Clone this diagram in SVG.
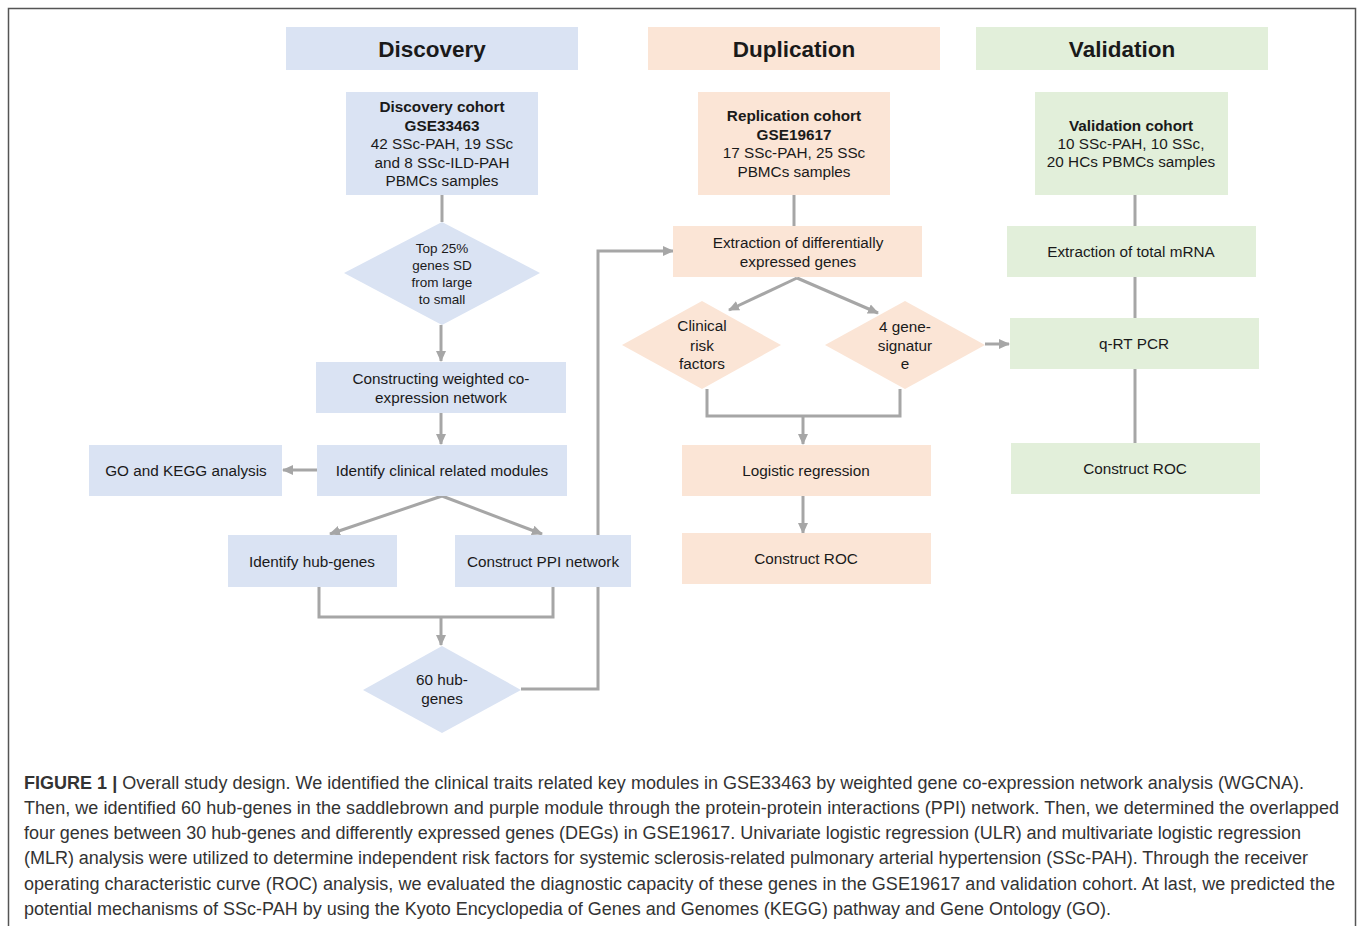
<svg xmlns="http://www.w3.org/2000/svg" width="1357" height="926" viewBox="0 0 1357 926">
<style>
.b{fill:#dae3f3}.p{fill:#fbe5d6}.g{fill:#e2efda}
.t{font-family:"Liberation Sans",Arial,sans-serif;font-size:15.3px;fill:#1a1a1a;text-anchor:middle}
.tb{font-weight:bold}
.h{font-family:"Liberation Sans",Arial,sans-serif;font-size:22.5px;font-weight:bold;fill:#1a1a1a;text-anchor:middle}
.d{font-size:13.5px}
.c{fill:none;stroke:#a6a6a6;stroke-width:3}
.cap{font-family:"Liberation Sans",Arial,sans-serif;font-size:18px;fill:#333}
</style>
<defs>
<marker id="a" markerUnits="userSpaceOnUse" markerWidth="12" markerHeight="12" viewBox="0 0 12 12" refX="10" refY="6" orient="auto">
<path d="M0,1 L11,6 L0,11 z" fill="#a6a6a6"/>
</marker>
</defs>
<rect x="8.5" y="8.5" width="1347" height="930" fill="#fff" stroke="#555" stroke-width="1.5"/>

<g id="hdr-discovery"><rect class="b" x="286" y="27" width="292" height="43"/><text class="h" x="432" y="57">Discovery</text></g>
<g id="hdr-duplication"><rect class="p" x="648" y="27" width="292" height="43"/><text class="h" x="794" y="57">Duplication</text></g>
<g id="hdr-validation"><rect class="g" x="976" y="27" width="292" height="43"/><text class="h" x="1122" y="57">Validation</text></g>

<g id="connectors">
<line class="c" x1="442" y1="195" x2="442" y2="222"/>
<line class="c" x1="441" y1="325" x2="441" y2="361" marker-end="url(#a)"/>
<line class="c" x1="441" y1="413" x2="441" y2="444" marker-end="url(#a)"/>
<line class="c" x1="317" y1="470" x2="283" y2="470" marker-end="url(#a)"/>
<polyline class="c" points="442,496 330,534" marker-end="url(#a)"/>
<polyline class="c" points="442,496 542,534" marker-end="url(#a)"/>
<polyline class="c" points="319,587 319,617 553,617 553,587"/>
<line class="c" x1="441" y1="617" x2="441" y2="645" marker-end="url(#a)"/>
<polyline class="c" points="521,689 598,689 598,251 673,251" marker-end="url(#a)"/>
<line class="c" x1="794" y1="195" x2="794" y2="226"/>
<polyline class="c" points="797,278 729,310" marker-end="url(#a)"/>
<polyline class="c" points="797,278 878,313" marker-end="url(#a)"/>
<polyline class="c" points="707,389 707,416 900,416 900,389"/>
<line class="c" x1="803" y1="416" x2="803" y2="444" marker-end="url(#a)"/>
<line class="c" x1="803" y1="496" x2="803" y2="533" marker-end="url(#a)"/>
<line class="c" x1="985" y1="344" x2="1009" y2="344" marker-end="url(#a)"/>
<line class="c" x1="1135" y1="195" x2="1135" y2="226"/>
<line class="c" x1="1135" y1="277" x2="1135" y2="318"/>
<line class="c" x1="1135" y1="369" x2="1135" y2="443"/>
</g>

<g id="discovery-cohort"><rect class="b" x="346" y="92" width="192" height="103"/>
<text class="t tb" x="442" y="112">Discovery cohort</text>
<text class="t tb" x="442" y="131">GSE33463</text>
<text class="t" x="442" y="149">42 SSc-PAH, 19 SSc</text>
<text class="t" x="442" y="168">and 8 SSc-ILD-PAH</text>
<text class="t" x="442" y="186">PBMCs samples</text></g>

<g id="top25"><polygon class="b" points="442,222 540,273 442,325 344,273"/>
<text class="t d" x="442" y="253">Top 25%</text>
<text class="t d" x="442" y="270">genes SD</text>
<text class="t d" x="442" y="287">from large</text>
<text class="t d" x="442" y="304">to small</text></g>

<g id="construct-wgcn"><rect class="b" x="316" y="362" width="250" height="51"/>
<text class="t" x="441" y="384">Constructing weighted co-</text>
<text class="t" x="441" y="403">expression network</text></g>

<g id="clinical-modules"><rect class="b" x="317" y="445" width="250" height="51"/>
<text class="t" x="442" y="476">Identify clinical related modules</text></g>

<g id="go-kegg"><rect class="b" x="89" y="445" width="193" height="51"/>
<text class="t" x="186" y="476">GO and KEGG analysis</text></g>

<g id="hub-genes"><rect class="b" x="228" y="535" width="169" height="52"/>
<text class="t" x="312" y="567">Identify hub-genes</text></g>

<g id="ppi"><rect class="b" x="455" y="535" width="176" height="52"/>
<text class="t" x="543" y="567">Construct PPI network</text></g>

<g id="hub60"><polygon class="b" points="442,646 521,690 442,733 363,690"/>
<text class="t" x="442" y="685">60 hub-</text>
<text class="t" x="442" y="704">genes</text></g>

<g id="replication-cohort"><rect class="p" x="698" y="92" width="192" height="103"/>
<text class="t tb" x="794" y="121">Replication cohort</text>
<text class="t tb" x="794" y="140">GSE19617</text>
<text class="t" x="794" y="158">17 SSc-PAH, 25 SSc</text>
<text class="t" x="794" y="177">PBMCs samples</text></g>

<g id="extract-deg"><rect class="p" x="673" y="226" width="249" height="51"/>
<text class="t" x="798" y="248">Extraction of differentially</text>
<text class="t" x="798" y="267">expressed genes</text></g>

<g id="clinical-risk"><polygon class="p" points="702,301 781,345 702,389 622,345"/>
<text class="t" x="702" y="331">Clinical</text>
<text class="t" x="702" y="351">risk</text>
<text class="t" x="702" y="369">factors</text></g>

<g id="gene-signature"><polygon class="p" points="905,301 985,345 905,389 825,345"/>
<text class="t" x="905" y="332">4 gene-</text>
<text class="t" x="905" y="351">signatur</text>
<text class="t" x="905" y="369">e</text></g>

<g id="logistic"><rect class="p" x="682" y="445" width="249" height="51"/>
<text class="t" x="806" y="476">Logistic regression</text></g>

<g id="roc-dup"><rect class="p" x="682" y="533" width="249" height="51"/>
<text class="t" x="806" y="564">Construct ROC</text></g>

<g id="validation-cohort"><rect class="g" x="1035" y="92" width="193" height="103"/>
<text class="t tb" x="1131" y="131">Validation cohort</text>
<text class="t" x="1131" y="149">10 SSc-PAH, 10 SSc,</text>
<text class="t" x="1131" y="167">20 HCs PBMCs samples</text></g>

<g id="extract-mrna"><rect class="g" x="1007" y="226" width="249" height="51"/>
<text class="t" x="1131" y="257">Extraction of total mRNA</text></g>

<g id="qrtpcr"><rect class="g" x="1010" y="318" width="249" height="51"/>
<text class="t" x="1134" y="349">q-RT PCR</text></g>

<g id="roc-val"><rect class="g" x="1011" y="443" width="249" height="51"/>
<text class="t" x="1135" y="474">Construct ROC</text></g>

<g id="caption">
<text class="cap" x="24" y="789" textLength="1280" lengthAdjust="spacing"><tspan font-weight="bold">FIGURE 1 |</tspan> Overall study design. We identified the clinical traits related key modules in GSE33463 by weighted gene co-expression network analysis (WGCNA).</text>
<text class="cap" x="24" y="814" textLength="1315" lengthAdjust="spacing">Then, we identified 60 hub-genes in the saddlebrown and purple module through the protein-protein interactions (PPI) network. Then, we determined the overlapped</text>
<text class="cap" x="24" y="839" textLength="1277" lengthAdjust="spacing">four genes between 30 hub-genes and differently expressed genes (DEGs) in GSE19617. Univariate logistic regression (ULR) and multivariate logistic regression</text>
<text class="cap" x="24" y="864" textLength="1284" lengthAdjust="spacing">(MLR) analysis were utilized to determine independent risk factors for systemic sclerosis-related pulmonary arterial hypertension (SSc-PAH). Through the receiver</text>
<text class="cap" x="24" y="890" textLength="1311" lengthAdjust="spacing">operating characteristic curve (ROC) analysis, we evaluated the diagnostic capacity of these genes in the GSE19617 and validation cohort. At last, we predicted the</text>
<text class="cap" x="24" y="915" textLength="1087" lengthAdjust="spacing">potential mechanisms of SSc-PAH by using the Kyoto Encyclopedia of Genes and Genomes (KEGG) pathway and Gene Ontology (GO).</text>
</g>
</svg>
